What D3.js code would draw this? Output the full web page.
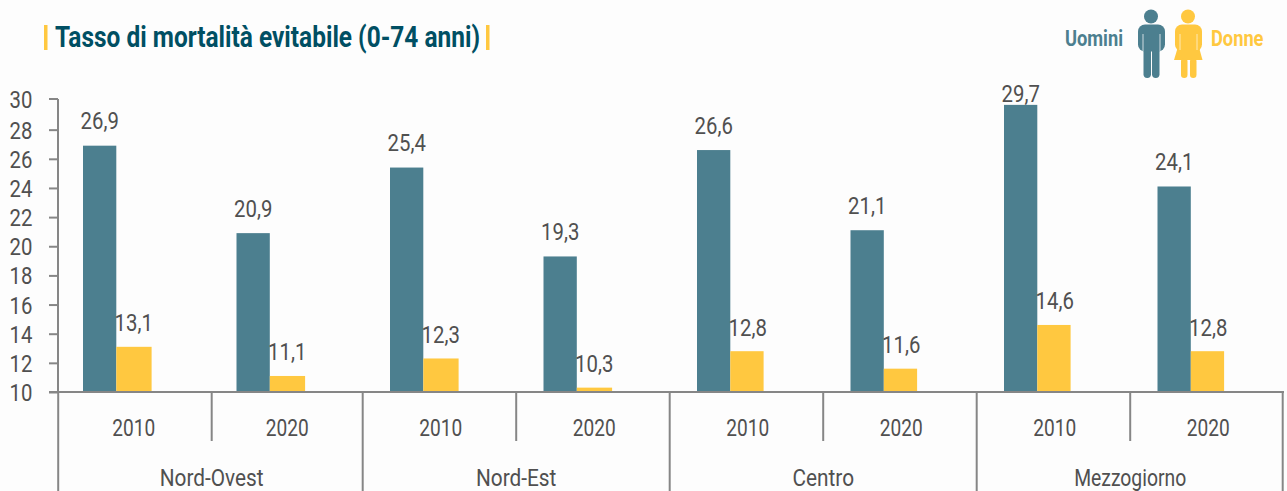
<!DOCTYPE html>
<html><head><meta charset="utf-8">
<script src="https://cdnjs.cloudflare.com/ajax/libs/d3/7.8.5/d3.min.js"></script>
<style>
html,body{margin:0;padding:0;background:#fdfdfd;overflow:hidden}
svg{display:block}
text{font-family:"Roboto","Liberation Sans",sans-serif;font-weight:400}
</style></head><body>
<svg id="c" width="1287" height="491"></svg>
<script>
const regions = ["Nord-Ovest","Nord-Est","Centro","Mezzogiorno"];
const years = ["2010","2020"];
const uomini = [26.9,20.9,25.4,19.3,26.6,21.1,29.7,24.1];
const donne = [13.1,11.1,12.3,10.3,12.8,11.6,14.6,12.8];
const yTicks = [10,12,14,16,18,20,22,24,26,28,30];
const titleText = "Tasso di mortalità evitabile (0-74 anni)";
const legendLabels = ["Uomini","Donne"];

const colM = "#4c7f8f", colF = "#ffc840", grey = "#868686", txt = "#505050", teal = "#004f63";
const svg = d3.select("#c");
const fmt = v => String(v).replace(".",",");
const keys = regions.flatMap(r => years.map(y => r+"|"+y));
const x = d3.scaleBand().domain(keys).range([55.7,1283.7]);
const y = d3.scaleLinear().domain([10,30]).range([392,100.5]);
const bw = x.bandwidth();
const SX = 0.83;
// condensed text: the installed faces are wider than the reference's
const put = (sel,fx,fy,sx=()=>SX,size=24.5) => sel
  .attr("transform",(d,i)=>`translate(${fx(d,i)},${fy(d,i)}) scale(${sx(d,i)},1)`)
  .attr("font-size",size);

const rows = keys.map((k,i)=>({k,i,m:uomini[i],f:donne[i]}));
const g = svg.append("g");
g.selectAll("rect.m").data(rows).join("rect").attr("class","m")
 .attr("x",d=>x(d.k)+27.3).attr("width",33.3)
 .attr("y",d=>y(d.m)).attr("height",d=>y(10)-y(d.m)).attr("fill",colM);
g.selectAll("rect.f").data(rows).join("rect").attr("class","f")
 .attr("x",d=>x(d.k)+60.6).attr("width",d=>d.i<4?35.3:33.3)
 .attr("y",d=>y(d.f)).attr("height",d=>y(10)-y(d.f)).attr("fill",colF);

put(g.selectAll("text.lm").data(rows).join("text").attr("class","lm").attr("text-anchor","middle").attr("fill",txt).text(d=>fmt(d.m)),
  d=>x(d.k)+44, d=>Math.max(102,y(d.m)-16.5));
put(g.selectAll("text.lf").data(rows).join("text").attr("class","lf").attr("text-anchor","middle").attr("fill",txt).text(d=>fmt(d.f)),
  d=>x(d.k)+78, d=>y(d.f)-15.5);

// y axis: the top tick sits a little above its scale position in the reference
const ya = svg.append("g").attr("transform","translate(58,0)")
 .call(d3.axisLeft(y).tickValues(yTicks).tickSize(9).tickFormat(d3.format("d")));
ya.selectAll("path,line").attr("stroke",grey).attr("stroke-width",2);
ya.select("path").attr("d",`M0,${y(30)-1.5}V${y(10)}`);
ya.selectAll(".tick").filter(d=>d===30).attr("transform",`translate(0,${y(30)-1.5})`);
ya.selectAll("text").attr("font-family",null).attr("text-anchor","middle").attr("fill",txt)
  .attr("x",null).attr("dy",null).attr("y",8.5)
  .attr("transform","translate(-37,0) scale(0.83,1)").attr("font-size",24.5);

const line = (x1,y1,x2,y2)=>svg.append("line").attr("x1",x1).attr("y1",y1).attr("x2",x2).attr("y2",y2).attr("stroke",grey).attr("stroke-width",2);
const sep = i => x(keys[i]) + (i<2?2.5:0);
line(49,y(10),1284,y(10));
keys.forEach((k,i)=>line(sep(i),y(10),sep(i),i%2===0?491:441));
line(x.range()[1]-1,y(10),x.range()[1]-1,491);
put(svg.selectAll("text.yr").data(keys).join("text").attr("class","yr").attr("text-anchor","middle").attr("fill",txt).text(k=>k.split("|")[1]),
  k=>x(k)+78, ()=>436, ()=>0.78);
put(svg.selectAll("text.rg").data(regions).join("text").attr("class","rg").attr("text-anchor","middle").attr("fill",txt).text(r=>r),
  (r,i)=>sep(i*2+1), ()=>486, (r,i)=>i===3?0.79:0.85);

svg.append("text").attr("transform","translate(55,47) scale(0.843,1)").attr("font-size",29).style("font-weight",700).attr("fill",teal).text(titleText);
svg.append("rect").attr("x",44).attr("y",25).attr("width",3.5).attr("height",25).attr("fill",colF);
svg.append("rect").attr("x",486).attr("y",25).attr("width",3.5).attr("height",25).attr("fill",colF);

svg.append("text").attr("transform","translate(1123,46) scale(0.83,1)").attr("text-anchor","end").attr("font-size",22).style("font-weight",700).attr("fill",colM).text(legendLabels[0]);
svg.append("text").attr("transform","translate(1211,46) scale(0.83,1)").attr("font-size",22).style("font-weight",700).attr("fill",colF).text(legendLabels[1]);
const man = svg.append("g").attr("fill",colM);
man.append("circle").attr("cx",1151).attr("cy",16.5).attr("r",7);
man.append("rect").attr("x",1138).attr("y",24.5).attr("width",27).attr("height",27).attr("rx",7);
man.append("rect").attr("x",1143.5).attr("y",40).attr("width",7.5).attr("height",38).attr("rx",3.7);
man.append("rect").attr("x",1152).attr("y",40).attr("width",7.5).attr("height",38).attr("rx",3.7);
man.append("rect").attr("x",1143).attr("y",34).attr("width",17).attr("height",16);
man.append("path").attr("d","M1143 34V51M1160 34V51").attr("stroke","#cfdde1").attr("stroke-width",1).attr("fill","none");
const wom = svg.append("g").attr("fill",colF);
wom.append("circle").attr("cx",1188).attr("cy",16.5).attr("r",7);
wom.append("rect").attr("x",1175).attr("y",24.5).attr("width",27).attr("height",27).attr("rx",7);
wom.append("path").attr("d","M1180 40H1197L1202.5 60H1174Z");
wom.append("rect").attr("x",1181).attr("y",58).attr("width",6.5).attr("height",20).attr("rx",3.2);
wom.append("rect").attr("x",1190).attr("y",58).attr("width",6.5).attr("height",20).attr("rx",3.2);
wom.append("path").attr("d","M1180 34V50M1197 34V50").attr("stroke","#ffe9b3").attr("stroke-width",1).attr("fill","none");
</script></body></html>
